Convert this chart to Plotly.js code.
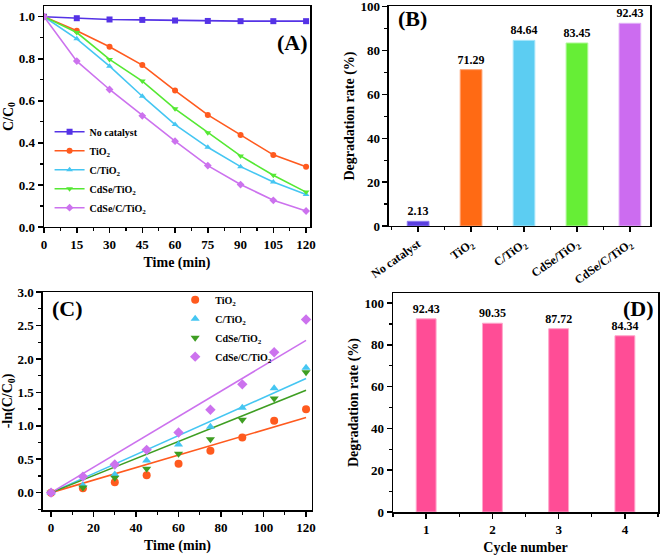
<!DOCTYPE html>
<html>
<head>
<meta charset="utf-8">
<script src="https://cdn.plot.ly/plotly-3.0.1.min.js"></script>
<style>html,body{margin:0;padding:0;background:#fff;}#chart{width:661px;height:558px;}</style>
</head>
<body>
<div id="chart"></div>
<script>
// ---- Panel A: C/C0 vs time ----
const timeA = [0, 15, 30, 45, 60, 75, 90, 105, 120];
const noCatalystA = [1.000, 0.993, 0.987, 0.985, 0.982, 0.980, 0.979, 0.979, 0.979];
const tio2A = [1.000, 0.933, 0.857, 0.770, 0.649, 0.533, 0.438, 0.343, 0.287];
const cTio2A = [1.000, 0.895, 0.765, 0.622, 0.487, 0.379, 0.287, 0.214, 0.154];
const cdseTio2A = [1.000, 0.925, 0.797, 0.694, 0.562, 0.448, 0.338, 0.246, 0.166];
const cdseCTio2A = [1.000, 0.789, 0.654, 0.529, 0.408, 0.292, 0.202, 0.127, 0.076];

// ---- Panel B: degradation rate by catalyst ----
const catalystsB = ['No catalyst', 'TiO<sub>2</sub>', 'C/TiO<sub>2</sub>', 'CdSe/TiO<sub>2</sub>', 'CdSe/C/TiO<sub>2</sub>'];
const ratesB = [2.13, 71.29, 84.64, 83.45, 92.43];

// ---- Panel C: -ln(C/C0) vs time, with linear fits ----
const timeC = [0, 15, 30, 45, 60, 75, 90, 105, 120];
const tio2C = [0, 0.065, 0.154, 0.259, 0.433, 0.627, 0.826, 1.075, 1.249];
const cTio2C = [0, 0.11, 0.27, 0.48, 0.72, 0.985, 1.27, 1.56, 1.87];
const cdseTio2C = [0, 0.078, 0.224, 0.358, 0.58, 0.80, 1.09, 1.41, 1.80];
const cdseCTio2C = [0, 0.24, 0.42, 0.64, 0.90, 1.24, 1.62, 2.10, 2.59];
const fitTime = [0, 120];
const rateK = {tio2: 0.00937, cTio2: 0.01422, cdseTio2: 0.01277, cdseCTio2: 0.01899};

// ---- Panel D: cycle stability ----
const cyclesD = [1, 2, 3, 4];
const ratesD = [92.43, 90.35, 87.72, 84.34];

const FONT = 'Liberation Serif, Times New Roman, serif';
const col = {
  noCat: '#5533E6', tio2: '#FF5A1E', cTio2: '#45C6F2', cdse: '#55E833', cdseC: '#CC72EE',
  barNo: '#5A3FE0', barTi: '#FF6A14', barC: '#5CCDF2', barCd: '#66EE36', barCdC: '#CC6CF0',
  greenC: '#3E9E22', pink: '#FF4D96'
};

function fitLine(k) { return fitTime.map(t => k * t); }

const traces = [];
const lineSeries = [
  ['No catalyst', noCatalystA, col.noCat, 'square'],
  ['TiO<sub>2</sub>', tio2A, col.tio2, 'circle'],
  ['C/TiO<sub>2</sub>', cTio2A, col.cTio2, 'triangle-up'],
  ['CdSe/TiO<sub>2</sub>', cdseTio2A, col.cdse, 'triangle-down'],
  ['CdSe/C/TiO<sub>2</sub>', cdseCTio2A, col.cdseC, 'diamond']
];
lineSeries.forEach(s => traces.push({
  x: timeA, y: s[1], name: s[0], type: 'scatter', mode: 'lines+markers',
  xaxis: 'x', yaxis: 'y', legend: 'legend',
  line: {color: s[2], width: 1.6},
  marker: {color: s[2], symbol: s[3], size: 6}
}));

traces.push({
  x: catalystsB.map((c, i) => i), y: ratesB, type: 'bar', xaxis: 'x2', yaxis: 'y2',
  showlegend: false, width: 0.41,
  marker: {color: [col.barNo, col.barTi, col.barC, col.barCd, col.barCdC],
           line: {color: ['#8C7AF0', '#FFA070', '#A8E6FA', '#B0F89A', '#E2B0F8'], width: 1}},
  text: ratesB.map(v => v.toFixed(2)), textposition: 'outside', cliponaxis: false, constraintext: 'none',
  textfont: {family: FONT, size: 12, color: '#000', weight: 'bold'}
});

const scatC = [
  ['TiO<sub>2</sub>', tio2C, rateK.tio2, col.tio2, 'circle'],
  ['C/TiO<sub>2</sub>', cTio2C, rateK.cTio2, col.cTio2, 'triangle-up'],
  ['CdSe/TiO<sub>2</sub>', cdseTio2C, rateK.cdseTio2, col.greenC, 'triangle-down'],
  ['CdSe/C/TiO<sub>2</sub>', cdseCTio2C, rateK.cdseCTio2, col.cdseC, 'diamond']
];
scatC.forEach(s => {
  traces.push({
    x: fitTime, y: fitLine(s[2]), type: 'scatter', mode: 'lines', xaxis: 'x3', yaxis: 'y3',
    showlegend: false, line: {color: s[3], width: 1.6}
  });
});
scatC.forEach(s => {
  traces.push({
    x: timeC, y: s[1], name: s[0], type: 'scatter', mode: 'markers', xaxis: 'x3', yaxis: 'y3',
    legend: 'legend2', marker: {color: s[3], symbol: s[4], size: 8}, cliponaxis: false
  });
});

traces.push({
  x: cyclesD, y: ratesD, type: 'bar', xaxis: 'x4', yaxis: 'y4', showlegend: false, width: 0.3,
  marker: {color: col.pink, line: {color: '#FFA6CB', width: 1}},
  text: ratesD.map(v => v.toFixed(2)), textposition: 'outside', cliponaxis: false, constraintext: 'none',
  textfont: {family: FONT, size: 12, color: '#000', weight: 'bold'}
});

function axisBase(extra) {
  return Object.assign({
    showline: true, linecolor: '#000', linewidth: 1.5, mirror: true,
    ticks: 'outside', ticklen: 5, tickwidth: 1.5, tickcolor: '#000',
    showgrid: false, zeroline: false, fixedrange: true, ticklabeloverflow: 'allow',
    tickfont: {family: FONT, size: 13, color: '#000', weight: 'bold'}
  }, extra);
}
function minor(d) { return {dtick: d, ticklen: 3, tickwidth: 1.2, tickcolor: '#000', ticks: 'outside', showgrid: false}; }
function title(t, s) { return {text: t, font: {family: FONT, size: 14, color: '#000', weight: 'bold'}, standoff: s}; }

const layout = {
  width: 661, height: 558, autosize: false,
  margin: {l: 0, r: 0, t: 0, b: 0},
  paper_bgcolor: '#fff', plot_bgcolor: '#fff',
  showlegend: true,
  xaxis: axisBase({domain: [0.0666, 0.469], anchor: 'y', range: [0, 121.8], tick0: 0, dtick: 15,
    minor: minor(7.5), title: title('Time (min)', 6)}),
  yaxis: axisBase({domain: [0.5932, 0.9892], anchor: 'x', range: [0, 1.051], tick0: 0, dtick: 0.2,
    tickformat: '.1f', minor: minor(0.1), title: title('C/C<sub>0</sub>', 2)}),
  xaxis2: axisBase({domain: [0.5885, 0.9834], anchor: 'y2', range: [-0.55, 4.38],
    tickmode: 'array', tickvals: catalystsB.map((c, i) => i), ticktext: catalystsB, tickangle: -35,
    tickfont: {family: FONT, size: 12, color: '#000', weight: 'bold'},
    minor: Object.assign(minor(1), {tickmode: 'array', tickvals: [-0.5, 0.5, 1.5, 2.5, 3.5]})}),
  yaxis2: axisBase({domain: [0.595, 0.9892], anchor: 'x2', range: [0, 100.3], tick0: 0, dtick: 20,
    minor: minor(10), title: title('Degradation rate (%)', 2)}),
  xaxis3: axisBase({domain: [0.065, 0.472], anchor: 'y3', range: [-3.8, 122.8], tick0: 0, dtick: 20,
    minor: minor(10), title: title('Time (min)', 6)}),
  yaxis3: axisBase({domain: [0.086, 0.4767], anchor: 'x3', range: [-0.26, 3.002], tick0: 0, dtick: 0.5,
    tickformat: '.1f', minor: minor(0.25), title: title('-ln(C/C<sub>0</sub>)', 2)}),
  xaxis4: axisBase({domain: [0.5946, 0.9955], anchor: 'y4', range: [0.5, 4.5], tick0: 0, dtick: 1,
    minor: minor(0.5), title: title('Cycle number', 6)}),
  yaxis4: axisBase({domain: [0.0824, 0.4749], anchor: 'x4', range: [0, 104.8], tick0: 0, dtick: 20,
    minor: minor(10), title: title('Degradation rate (%)', 2)}),
  legend: {x: 0.075, y: 0.790, xanchor: 'left', yanchor: 'top', bgcolor: 'rgba(0,0,0,0)',
    font: {family: FONT, size: 10, color: '#000', weight: 'bold'}, tracegroupgap: 0, itemwidth: 30},
  legend2: {x: 0.265, y: 0.489, xanchor: 'left', yanchor: 'top', bgcolor: 'rgba(0,0,0,0)',
    font: {family: FONT, size: 10, color: '#000', weight: 'bold'}, tracegroupgap: 0, itemwidth: 30},
  annotations: [
    ['(A)', 0.4418, 0.9247], ['(B)', 0.6233, 0.9677], ['(C)', 0.1014, 0.448], ['(D)', 0.9667, 0.448]
  ].map(a => ({text: a[0], x: a[1], y: a[2], xref: 'paper', yref: 'paper', showarrow: false,
    xanchor: 'center', yanchor: 'middle', font: {family: FONT, size: 22, color: '#000', weight: 'bold'}}))
};

Plotly.newPlot('chart', traces, layout, {displayModeBar: false, staticPlot: true});
</script>
</body>
</html>
